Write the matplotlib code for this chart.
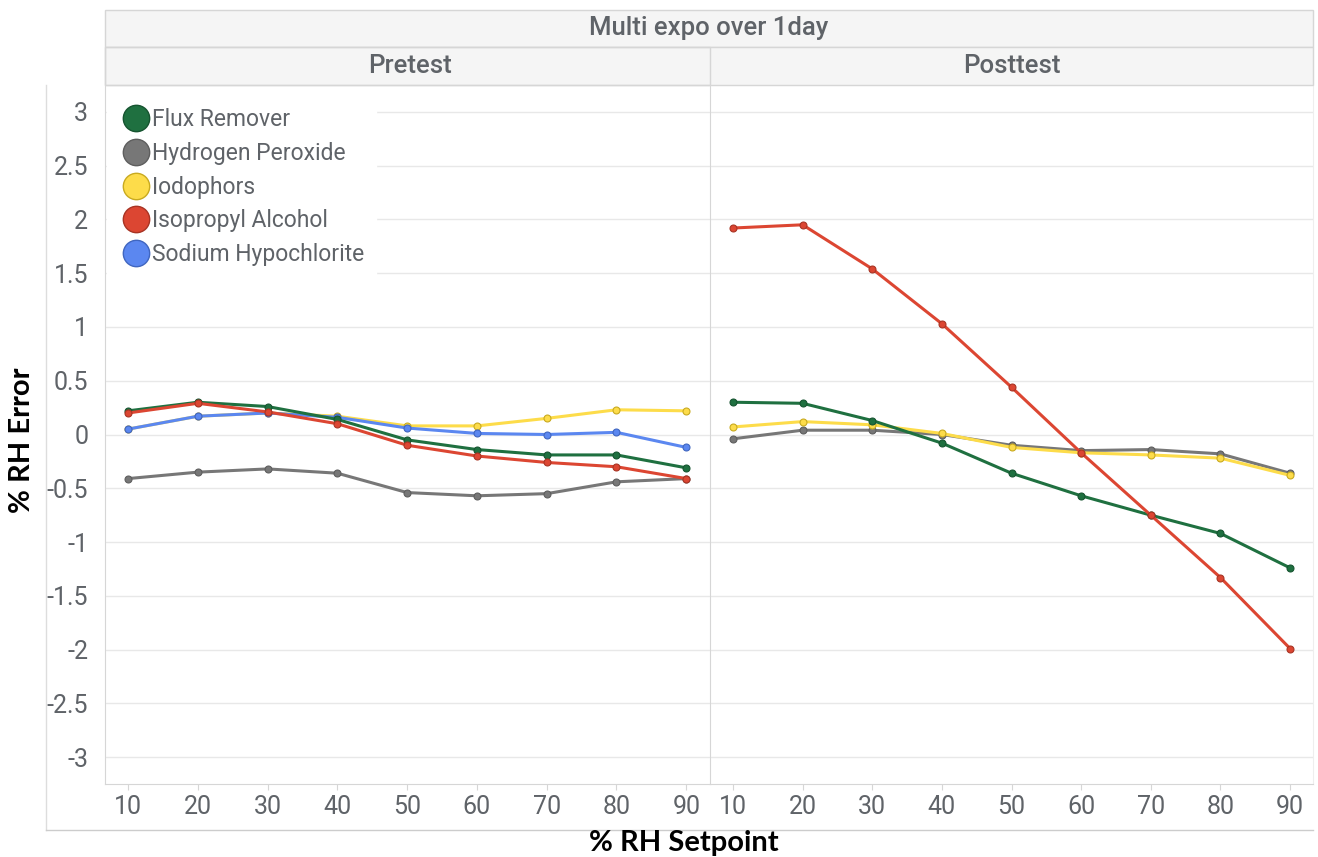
import matplotlib.pyplot as plt
from matplotlib.patches import Rectangle
from matplotlib.lines import Line2D

W, H = 1318, 857
DPI = 100

setpoints = [10, 20, 30, 40, 50, 60, 70, 80, 90]

series_names = ["Flux Remover", "Hydrogen Peroxide", "Iodophors",
                "Isopropyl Alcohol", "Sodium Hypochlorite"]
colors = ["#1f7040", "#777777", "#fddc4a", "#dc4632", "#5b87f0"]
edges = ["#165430", "#5e5e5e", "#c9aa20", "#a83424", "#4066c0"]

# Pretest
pre_flux = [0.22, 0.30, 0.26, 0.14, -0.05, -0.14, -0.19, -0.19, -0.31]
pre_h2o2 = [-0.41, -0.35, -0.32, -0.36, -0.54, -0.57, -0.55, -0.44, -0.41]
pre_iodo = [0.05, 0.17, 0.20, 0.17, 0.08, 0.08, 0.15, 0.23, 0.22]
pre_ipa = [0.20, 0.29, 0.21, 0.10, -0.10, -0.20, -0.26, -0.30, -0.41]
pre_naocl = [0.05, 0.17, 0.20, 0.16, 0.06, 0.01, 0.00, 0.02, -0.12]

# Posttest (no Sodium Hypochlorite line visible)
post_flux = [0.30, 0.29, 0.13, -0.08, -0.36, -0.57, -0.75, -0.92, -1.24]
post_h2o2 = [-0.04, 0.04, 0.04, 0.00, -0.10, -0.15, -0.14, -0.18, -0.36]
post_iodo = [0.07, 0.12, 0.09, 0.01, -0.12, -0.17, -0.19, -0.22, -0.38]
post_ipa = [1.92, 1.95, 1.54, 1.03, 0.44, -0.17, -0.75, -1.33, -1.99]

pre_data = [pre_flux, pre_h2o2, pre_iodo, pre_ipa, pre_naocl]
post_data = [post_flux, post_h2o2, post_iodo, post_ipa, None]

yticks = [-3, -2.5, -2, -1.5, -1, -0.5, 0, 0.5, 1, 1.5, 2, 2.5, 3]
yticklabels = ["-3", "-2.5", "-2", "-1.5", "-1", "-0.5", "0", "0.5", "1", "1.5", "2", "2.5", "3"]

TXT = "#5f6368"
GRID = "#e8e8e8"
BORDER = "#d6d6d6"


def fx(px):
    return px / W


def fy(py):
    return 1 - py / H


fig = plt.figure(figsize=(W / DPI, H / DPI), dpi=DPI)
plt.rcParams["font.family"] = ["Roboto", "DejaVu Sans"]

top, bottom = 85, 784
panels = [(105, 710), (710, 1313)]
axes = []
for i, (x0, x1) in enumerate(panels):
    ax = fig.add_axes([fx(x0), fy(bottom), (x1 - x0) / W, (bottom - top) / H])
    axes.append(ax)
    ax.set_xlim(6.7, 93.4 if i == 0 else 93.3)
    ax.set_ylim(-3.25, 3.25)
    ax.set_yticks(yticks)
    ax.set_xticks(setpoints)
    ax.set_xticklabels([str(s) for s in setpoints], fontsize=18, color=TXT)
    if i == 0:
        ax.set_yticklabels(yticklabels, fontsize=18, color=TXT)
    else:
        ax.tick_params(axis="y", left=False, labelleft=False)
    ax.tick_params(axis="y", length=0, pad=12)
    ax.tick_params(axis="x", length=4, color=BORDER, pad=4)
    ax.grid(axis="y", color=GRID, linewidth=1)
    ax.set_axisbelow(True)
    for side in ["top", "right"]:
        ax.spines[side].set_visible(False)
    ax.spines["bottom"].set_color(BORDER)
    ax.spines["left"].set_color(BORDER)
    if i == 1:
        ax.spines["right"].set_visible(True)
        ax.spines["right"].set_color("#eeeeee")

for ax, data in zip(axes, [pre_data, post_data]):
    order = [1, 2, 4, 0, 3]
    for k in order:
        vals = data[k]
        if vals is None:
            continue
        ax.plot(setpoints, vals, color=colors[k], linewidth=2.2, marker="o",
                markersize=5, markerfacecolor=colors[k], markeredgecolor=edges[k],
                markeredgewidth=0.8, zorder=3)

# legend
handles = [Line2D([], [], linestyle="none", marker="o", markersize=19,
                  markerfacecolor=c, markeredgecolor=e, markeredgewidth=1)
           for c, e in zip(colors, edges)]
leg = axes[0].legend(handles, series_names, loc="upper left",
                     bbox_to_anchor=(-0.005, 0.99), frameon=True, fontsize=16.5,
                     handletextpad=-0.1, labelspacing=0.47, borderpad=0.5,
                     handlelength=1.6, borderaxespad=0.2)
leg.get_frame().set_edgecolor("white")
leg.get_frame().set_facecolor("white")
leg.get_frame().set_alpha(1)
for t in leg.get_texts():
    t.set_color(TXT)

# header strips
for (y0, y1) in [(10, 47), (47, 85)]:
    fig.patches.append(Rectangle((fx(105), fy(y1)), (1313 - 105) / W, (y1 - y0) / H,
                                 transform=fig.transFigure, facecolor="#f5f5f5",
                                 edgecolor=BORDER, linewidth=1, zorder=0))
fig.patches.append(Rectangle((fx(105), fy(85)), (710 - 105) / W, 38 / H,
                             transform=fig.transFigure, facecolor="none",
                             edgecolor=BORDER, linewidth=1, zorder=1))
fig.text(fx(709), fy(28), "Multi expo over 1day", ha="center", va="center",
         fontsize=18.5, fontweight="medium", color=TXT)
fig.text(fx(410), fy(66), "Pretest", ha="center", va="center",
         fontsize=18.5, fontweight="medium", color=TXT)
fig.text(fx(1012), fy(66), "Posttest", ha="center", va="center",
         fontsize=18.5, fontweight="medium", color=TXT)

# outer frame lines at bottom-left
fig.lines.append(Line2D([fx(46), fx(46)], [fy(85), fy(830)], transform=fig.transFigure,
                        color="#dddddd", linewidth=1))
fig.lines.append(Line2D([fx(46), fx(1313)], [fy(830), fy(830)], transform=fig.transFigure,
                        color="#cccccc", linewidth=1))

fig.text(fx(22), fy(440), "% RH Error", rotation=90, ha="center", va="center",
         fontsize=21, fontweight="bold", color="black", family=["Lato", "DejaVu Sans"])
fig.text(fx(684), fy(843), "% RH Setpoint", ha="center", va="center",
         fontsize=21, fontweight="bold", color="black", family=["Lato", "DejaVu Sans"])

fig.savefig("out.png", dpi=DPI)
plt.close(fig)
